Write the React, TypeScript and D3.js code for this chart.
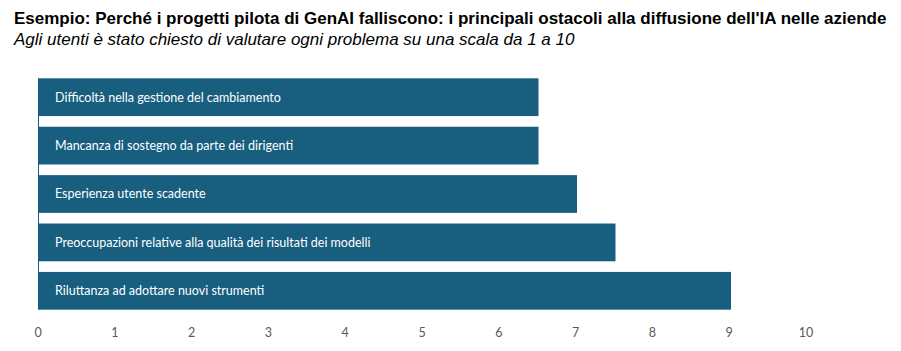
import React from "react";
import * as d3 from "d3";

const categories = [
  "Difficoltà nella gestione del cambiamento",
  "Mancanza di sostegno da parte dei dirigenti",
  "Esperienza utente scadente",
  "Preoccupazioni relative alla qualità dei risultati dei modelli",
  "Riluttanza ad adottare nuovi strumenti",
];
const values = [6.5, 6.5, 7, 7.5, 9];
const tickValues = [0, 1, 2, 3, 4, 5, 6, 7, 8, 9, 10];
const title =
  "Esempio: Perché i progetti pilota di GenAI falliscono: i principali ostacoli alla diffusione dell'IA nelle aziende";
const subtitle =
  "Agli utenti è stato chiesto di valutare ogni problema su una scala da 1 a 10";

const W = 901;
const H = 351;
const BAR = "#175e7f";

export default function App() {
  const x = d3.scaleLinear().domain([0, 10]).range([38, 808]);
  const y = d3
    .scaleBand<string>()
    .domain(categories)
    .range([73, 315])
    .paddingInner(0.22)
    .paddingOuter(0.11);
  const bw = y.bandwidth();
  return (
    <svg
      width={W}
      height={H}
      style={{ position: "absolute", left: 0, top: 0, background: "#fff" }}
    >
      <text
        x={14}
        y={24}
        fontFamily="'Liberation Sans', Arial, sans-serif"
        fontWeight="bold"
        fontSize={17}
        fill="#000"
      >
        {title}
      </text>
      <text
        x={14}
        y={45}
        fontFamily="'Liberation Sans', Arial, sans-serif"
        fontStyle="italic"
        fontSize={17}
        fill="#000"
      >
        {subtitle}
      </text>
      {categories.map((c, i) => (
        <g key={c}>
          <rect
            x={x(0)}
            y={y(c)}
            width={x(values[i]) - x(0)}
            height={bw}
            fill={BAR}
          />
          <text
            x={x(0) + 17}
            y={(y(c) as number) + bw / 2}
            dy="0.35em"
            fontFamily="Lato, 'Open Sans', sans-serif"
            fontSize={12.5}
            fill="#fff"
          >
            {c}
          </text>
        </g>
      ))}
      <line
        x1={x(0) + 0.5}
        x2={x(0) + 0.5}
        y1={y(categories[0])}
        y2={(y(categories[categories.length - 1]) as number) + bw}
        stroke={BAR}
        strokeWidth={1}
      />
      {tickValues.map((t) => (
        <text
          key={t}
          x={x(t) - t * 0.2}
          y={337}
          textAnchor="middle"
          fontFamily="Lato, 'Open Sans', sans-serif"
          fontSize={12.5}
          fill="#595959"
        >
          {t}
        </text>
      ))}
    </svg>
  );
}
